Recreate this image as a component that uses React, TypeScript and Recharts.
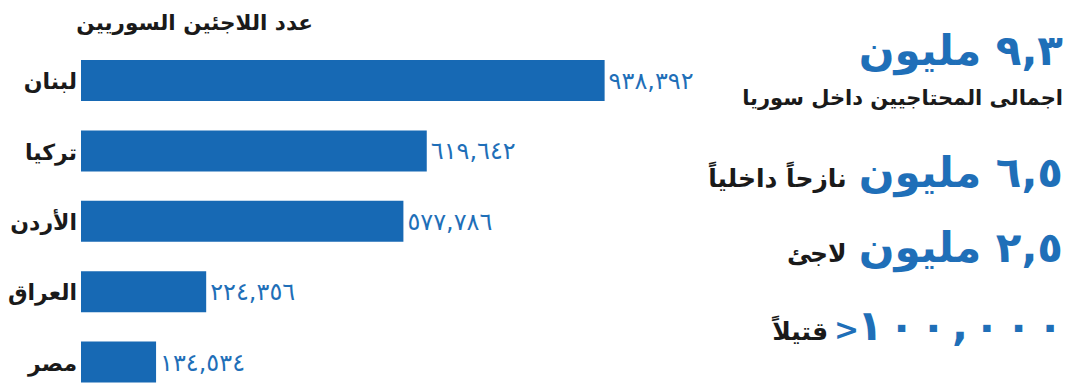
import React from 'react'
import { BarChart, Bar, XAxis, YAxis, LabelList } from 'recharts'

const COUNTRIES = ['لبنان', 'تركيا', 'الأردن', 'العراق', 'مصر']
const REFUGEES = [938392, 619642, 577786, 224356, 134534]

const TITLE = 'عدد اللاجئين السوريين'

const STAT_VALUES = ['٩,٣ مليون', '٦,٥ مليون', '٢,٥ مليون', '١٠٠,٠٠٠']
const STAT_LABELS = ['اجمالى المحتاجيين داخل سوريا', 'نازحاً داخلياً', 'لاجئ', 'قتيلاً']

const BAR_BLUE = '#1769b4'
const TEXT_BLUE = '#1f6fb8'
const ARABIC_FONT = "'DejaVu Sans', sans-serif"

const AR_DIGITS = '٠١٢٣٤٥٦٧٨٩'
const toArabic = (n: number) =>
  n.toLocaleString('en-US').replace(/[0-9]/g, d => AR_DIGITS[Number(d)])

const data = COUNTRIES.map((country, i) => ({ country, value: REFUGEES[i] }))

const CountryTick = (props: any) => {
  const { x, y, payload } = props
  return (
    <text
      x={x}
      y={y}
      dy={9}
      textAnchor="end"
      fill="#1a1a1a"
      fontFamily={ARABIC_FONT}
      fontWeight={700}
      fontSize={22}
    >
      {payload.value}
    </text>
  )
}

const bigStyle: React.CSSProperties = {
  color: TEXT_BLUE,
  fontWeight: 700,
  fontSize: 42,
  lineHeight: '52px',
}

const smallStyle: React.CSSProperties = {
  color: '#1a1a1a',
  fontWeight: 700,
  fontSize: 25,
}

const rowStyle = (top: number): React.CSSProperties => ({
  position: 'absolute',
  right: 9,
  top,
  display: 'flex',
  alignItems: 'baseline',
  gap: 12,
  fontFamily: ARABIC_FONT,
  whiteSpace: 'nowrap',
})

export default function App() {
  return (
    <div style={{
      position: 'fixed',
      left: 0,
      top: 0,
      width: 1072,
      height: 385,
      overflow: 'hidden',
      background: '#ffffff',
    }}>
      <div dir="rtl" style={{
        position: 'absolute',
        right: 1072 - 313,
        top: 10,
        fontFamily: ARABIC_FONT,
        fontWeight: 700,
        fontSize: 21.5,
        color: '#1a1a1a',
        whiteSpace: 'nowrap',
      }}>
        {TITLE}
      </div>

      <div style={{ position: 'absolute', left: 0, top: 0 }}>
        <BarChart
          layout="vertical"
          width={700}
          height={400}
          data={data}
          margin={{ top: 45, right: 61, bottom: 3, left: 0 }}
        >
          <XAxis type="number" domain={[0, 1000000]} hide />
          <YAxis
            type="category"
            dataKey="country"
            width={81}
            axisLine={false}
            tickLine={false}
            tickSize={0}
            tickMargin={4}
            tick={<CountryTick />}
          />
          <Bar dataKey="value" fill={BAR_BLUE} barSize={41} isAnimationActive={false}>
            <LabelList
              dataKey="value"
              position="right"
              offset={4}
              formatter={(v: any) => toArabic(Number(v))}
              fill={TEXT_BLUE}
              fontSize={24}
              fontFamily={ARABIC_FONT}
            />
          </Bar>
        </BarChart>
      </div>

      <div dir="rtl" style={{ ...rowStyle(25), ...bigStyle }}>{STAT_VALUES[0]}</div>
      <div dir="rtl" style={{ ...rowStyle(86), ...smallStyle, fontSize: 21 }}>{STAT_LABELS[0]}</div>

      <div style={rowStyle(147)}>
        <div dir="rtl" style={smallStyle}>{STAT_LABELS[1]}</div>
        <div dir="rtl" style={bigStyle}>{STAT_VALUES[1]}</div>
      </div>

      <div style={rowStyle(222)}>
        <div dir="rtl" style={smallStyle}>{STAT_LABELS[2]}</div>
        <div dir="rtl" style={bigStyle}>{STAT_VALUES[2]}</div>
      </div>

      <div style={{ ...rowStyle(300), right: 9, gap: 6 }}>
        <div dir="rtl" style={smallStyle}>{STAT_LABELS[3]}</div>
        <div style={{ ...bigStyle, fontSize: 30, marginRight: -8 }}>{'>'}</div>
        <div style={{ ...bigStyle, display: 'flex', gap: 6 }}>
          {Array.from(STAT_VALUES[3]).map((ch, i) => (
            <span key={i}>{ch}</span>
          ))}
        </div>
      </div>
    </div>
  )
}
